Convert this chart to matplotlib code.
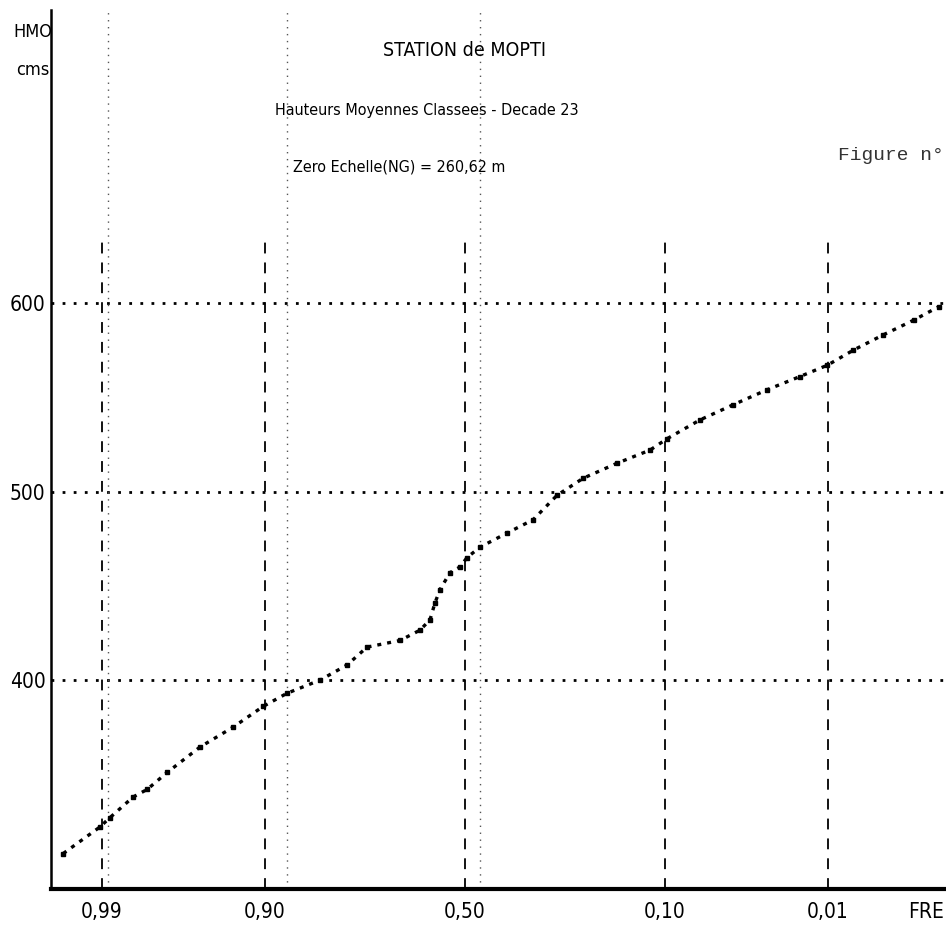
import math
import numpy as np
import matplotlib
matplotlib.use("Agg")
import matplotlib.pyplot as plt

# frequences (probabilite de depassement) et hauteurs moyennes classees (cm)
freq = [0.9950, 0.9904, 0.9886, 0.9833, 0.9792, 0.9719, 0.9553, 0.9315,
        0.9023, 0.8731, 0.8236, 0.7752, 0.7350, 0.6616, 0.6134, 0.5888,
        0.5763, 0.5637, 0.5383, 0.5128, 0.4949, 0.4617, 0.3939, 0.3315,
        0.2777, 0.2248, 0.1650, 0.1178, 0.0977, 0.0660, 0.0429, 0.0264,
        0.0159, 0.0101, 0.0064, 0.0037, 0.0020, 0.0012]
hauteur = [308, 322, 327, 338, 342, 351, 364.5, 375,
           386, 393, 400, 408, 417.5, 421, 426.5, 432,
           441, 448, 457, 460, 465, 470.5, 478, 485,
           498, 507, 515, 522, 528, 538, 546, 554,
           561, 567, 575, 583, 591, 598]

freq_ticks = [0.99, 0.90, 0.50, 0.10, 0.01]
freq_labels = ["0,99", "0,90", "0,50", "0,10", "0,01"]
h_ticks = [400, 500, 600]
h_labels = ["400", "500", "600"]
ghost_freq = [0.989, 0.873, 0.462]   # traits pointilles du scan


# echelle gaussique (probit)
_erf = np.vectorize(math.erf, otypes=[float])


def ncdf(z):
    z = np.asarray(z, dtype=float)
    return 0.5 * (1.0 + _erf(z / math.sqrt(2.0)))


def _ppf1(p):
    p = min(max(p, 1e-12), 1 - 1e-12)
    lo, hi = -8.0, 8.0
    for _ in range(60):
        mid = 0.5 * (lo + hi)
        if 0.5 * (1 + math.erf(mid / math.sqrt(2))) < p:
            lo = mid
        else:
            hi = mid
    return 0.5 * (lo + hi)


_ppf = np.vectorize(_ppf1, otypes=[float])


def probit(p):
    return _ppf(np.asarray(p, dtype=float))


font = dict(family="DejaVu Sans", stretch="condensed")

W, H = 946, 931
fig = plt.figure(figsize=(W / 100, H / 100), dpi=100)
ax = fig.add_axes([51 / W, (H - 889) / H, 1 - 51 / W, (889 - 10) / H])
ax.set_xscale("function", functions=(probit, ncdf))
ax.set_xlim(0.99602, 0.001025)
ax.set_ylim(289.2, 755.4)

# grille
for h in h_ticks:
    ax.axhline(h, color="black", lw=2.0, linestyle=(0, (1, 3)), zorder=1)
ax.vlines(freq_ticks, 289.2, 636, colors="black", lw=1.3,
          linestyles=[(0, (6, 5))], zorder=1)
ax.vlines(ghost_freq, 289.2, 755.4, colors="#555555", lw=1.0,
          linestyles=[(0, (1, 4))], zorder=1)

# courbe
ax.plot(freq, hauteur, color="black", lw=2.4, linestyle=(0, (1.2, 1.8)),
        marker="s", markersize=2.2, zorder=3)

ax.set_xticks(freq_ticks)
ax.set_xticklabels(freq_labels, fontsize=15, **font)
ax.set_yticks(h_ticks)
ax.set_yticklabels(h_labels, fontsize=15, **font)
ax.xaxis.set_minor_locator(matplotlib.ticker.NullLocator())
ax.tick_params(axis="x", length=0, pad=9)
ax.tick_params(axis="y", length=0, pad=4)

for s in ["top", "right"]:
    ax.spines[s].set_visible(False)
ax.spines["left"].set_linewidth(1.8)
ax.spines["bottom"].set_linewidth(3)


def ftext(x, y, s, **kw):
    fig.text(x / W, 1 - y / H, s, va="center", **kw)


ftext(33, 32, "HMO", ha="center", fontsize=13, **font)
ftext(33, 70, "cms", ha="center", fontsize=13, **font)
ftext(383, 50, "STATION de MOPTI", ha="left", fontsize=14, **font)
ftext(275, 110, "Hauteurs Moyennes Classees - Decade 23", ha="left",
      fontsize=11.5, **font)
ftext(293, 167, "Zero Echelle(NG) = 260,62 m", ha="left", fontsize=11.5,
      **font)
ftext(838, 155, "Figure n°", ha="left", family="Liberation Mono",
      fontsize=14, color="#333333")
ftext(908, 912, "FRE", ha="left", fontsize=15, **font)

fig.savefig("out.png", dpi=100, facecolor="white")
